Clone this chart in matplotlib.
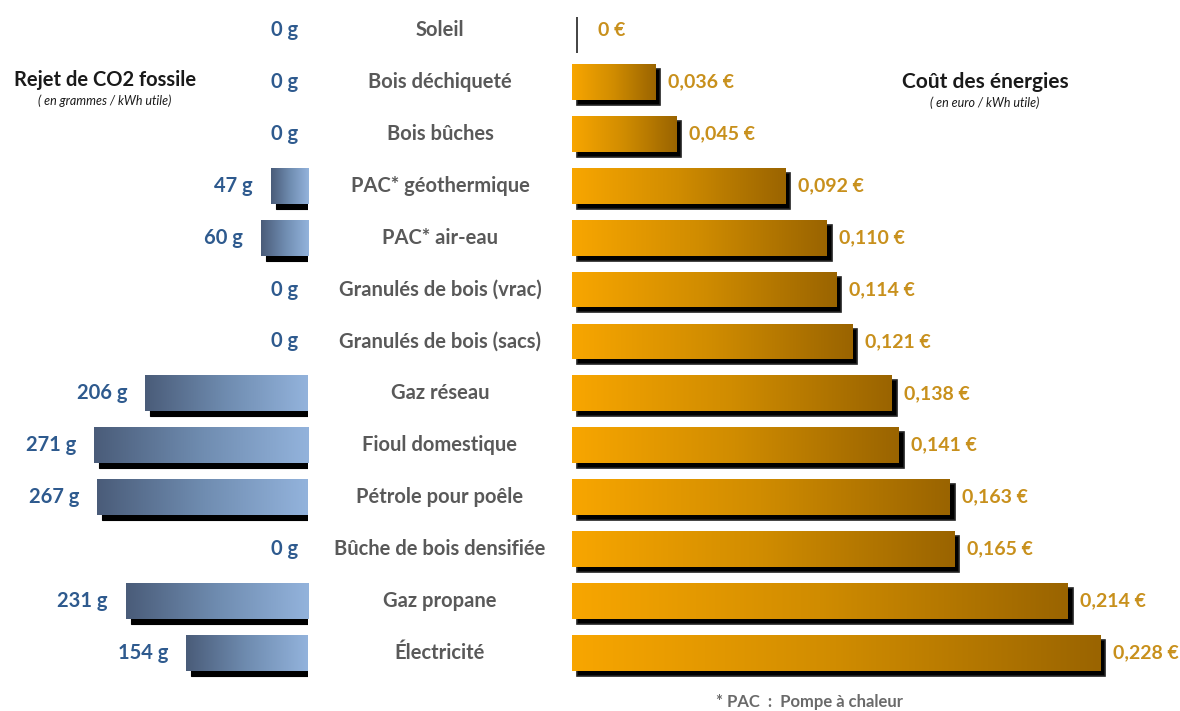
import numpy as np
import matplotlib
matplotlib.use("Agg")
import matplotlib.pyplot as plt
import matplotlib.transforms as mtrans
from matplotlib.colors import LinearSegmentedColormap

# données
energies = ["Soleil", "Bois déchiqueté", "Bois bûches", "PAC* géothermique",
            "PAC* air-eau", "Granulés de bois (vrac)", "Granulés de bois (sacs)",
            "Gaz réseau", "Fioul domestique", "Pétrole pour poêle",
            "Bûche de bois densifiée", "Gaz propane", "Électricité"]
co2 = [0, 0, 0, 47, 60, 0, 0, 206, 271, 267, 0, 231, 154]          # g / kWh utile
cout = [0, 0.036, 0.045, 0.092, 0.110, 0.114, 0.121, 0.138, 0.141,
        0.163, 0.165, 0.214, 0.228]                                  # euro / kWh utile

plt.rcParams['font.family'] = ['Lato', 'DejaVu Sans']

W, H = 1180, 711
fig = plt.figure(figsize=(W/100, H/100), dpi=100)

n = len(energies)
y = np.arange(n)
h = 0.69
ylim = (13.12, -0.578)

axL = fig.add_axes([0, 0, 308/W, 1])
axR = fig.add_axes([572/W, 0, 1 - 572/W, 1])

cmapL = LinearSegmentedColormap.from_list("bleu", ["#4a5c79", "#6f8cb0", "#93b3dc"])
cmapR = LinearSegmentedColormap.from_list("orange", ["#f8a600", "#d08c00", "#9a6400"])
grad = np.linspace(0, 1, 256).reshape(1, -1)

# ombre : décalage 5 px à droite et vers le bas
def ombre(ax):
    return ax.transData + mtrans.ScaledTranslation(0.05, -0.05, fig.dpi_scale_trans)

# --- gauche : CO2 ---
axL.barh(y, co2, height=h, color="black", edgecolor="black", lw=0.8,
         transform=ombre(axL), zorder=1)
barsL = axL.barh(y, co2, height=h, color="none", lw=0, zorder=2)
for b, v, yi in zip(barsL, co2, y):
    if v > 0:
        im = axL.imshow(grad, cmap=cmapL, aspect="auto", zorder=2,
                        extent=(v, 0, yi + h/2, yi - h/2))
        im.set_clip_path(b)
    axL.annotate(f"{v} g", (v, yi), xytext=(-13 if v > 0 else -7, 0),
                 textcoords="offset points",
                 ha="right", va="center", fontsize=14.5, fontweight="bold",
                 color="#2e5a8e")
axL.set_xlim(390, 0)
axL.set_ylim(*ylim)
axL.axis("off")

# --- droite : coût ---
axR.barh(y, cout, height=h, color="black", edgecolor="#222222", lw=1.2,
         transform=ombre(axR), zorder=1)
barsR = axR.barh(y, cout, height=h, color="none", lw=0, zorder=2)
for b, v, yi in zip(barsR, cout, y):
    if v > 0:
        im = axR.imshow(grad, cmap=cmapR, aspect="auto", zorder=2,
                        extent=(0, v, yi + h/2, yi - h/2))
        im.set_clip_path(b)
    txt = "0 €" if v == 0 else f"{v:.3f} €".replace(".", ",")
    axR.annotate(txt, (v, yi), xytext=(9 if v > 0 else 19, 0), textcoords="offset points",
                 ha="left", va="center", fontsize=14, fontweight="bold",
                 color="#c8901c")
axR.set_xlim(0, 0.2625)
axR.set_ylim(*ylim)
axR.axis("off")

# noms des énergies au milieu
tr = mtrans.blended_transform_factory(fig.transFigure, axR.transData)
for e, yi in zip(energies, y):
    axR.text(440/W, yi, e, transform=tr, ha="center", va="center",
             fontsize=14.5, fontweight="bold", color="#595959", clip_on=False)

# titres
fig.text(105/W, 1 - 80/H, "Rejet de CO2 fossile", ha="center", va="center",
         fontsize=14.5, fontweight="bold", color="#1a1a1a")
fig.text(105/W, 1 - 101/H, "( en grammes / kWh utile)", ha="center", va="center",
         fontsize=9, style="italic", color="#1a1a1a")
fig.text(985/W, 1 - 82/H, "Coût des énergies", ha="center", va="center",
         fontsize=15, fontweight="bold", color="#1a1a1a")
fig.text(985/W, 1 - 103/H, "( en euro / kWh utile)", ha="center", va="center",
         fontsize=9, style="italic", color="#1a1a1a")
fig.text(810/W, 1 - 702/H, "* PAC  :  Pompe à chaleur", ha="center", va="center",
         fontsize=12, fontweight="bold", color="#6a6a6a")

fig.savefig("out.png", dpi=100)
